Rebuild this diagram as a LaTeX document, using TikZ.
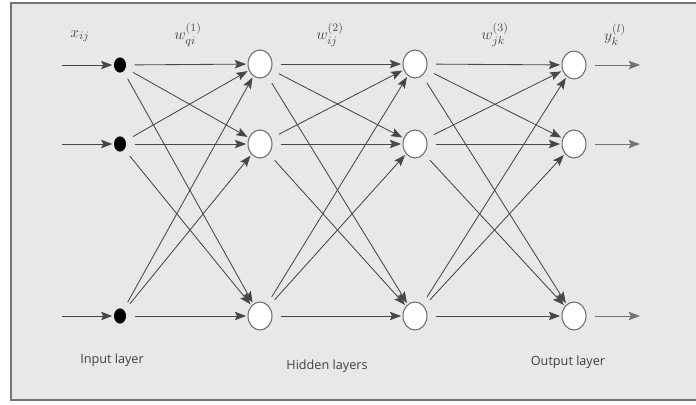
\documentclass[tikz,border=0pt]{standalone}
\usepackage{fontspec}
\setmainfont{Open Sans}
\usetikzlibrary{shapes.geometric}
\usetikzlibrary{arrows.meta}

\tikzset{
  inp/.style={ellipse,fill=black,minimum width=0.3cm,minimum height=0.38cm,inner sep=0pt},
  neuron/.style={ellipse,draw=black!60,fill=white,line width=0.7pt,
                 minimum width=0.6cm,minimum height=0.7cm,inner sep=0pt},
  link/.style={draw=black!72,line width=0.6pt,-{Stealth[length=8pt,width=6pt,inset=1.5pt]},
               shorten <=6pt,shorten >=1pt},
  lbl/.style={font=\fontsize{9}{11}\selectfont,text=black!75},
  mlbl/.style={font=\fontsize{11}{13}\selectfont,text=black!70}
}

\begin{document}
\begin{tikzpicture}[x=0.025cm,y=-0.025cm]
\useasboundingbox (0,0) rectangle (696,405);
% paper and frame
\fill[black!9] (11,3) rectangle (696,400);
\draw[black!55,line width=1.2pt] (696,3) -- (11,3) -- (11,400) -- (696,400);

% layers
\node[inp] (i1) at (120,65) {};
\node[inp] (i2) at (120,144) {};
\node[inp] (i3) at (120,316) {};
\node[neuron] (a1) at (260,64) {};
\node[neuron] (a2) at (260,144) {};
\node[neuron] (a3) at (260,316) {};
\node[neuron] (b1) at (415,64) {};
\node[neuron] (b2) at (415,144) {};
\node[neuron] (b3) at (415,316) {};
\node[neuron] (o1) at (574,65) {};
\node[neuron] (o2) at (574,144) {};
\node[neuron] (o3) at (574,316) {};

% free ends
\coordinate (x1) at (62,65);
\coordinate (x2) at (62,144);
\coordinate (x3) at (62,316);
\coordinate (y1) at (640,65);
\coordinate (y2) at (640,144);
\coordinate (y3) at (640,316);

\foreach \s in {1,2,3}
  \foreach \t in {1,2,3}
  {
    \draw[link] (i\s) -- (a\t);
    \draw[link] (a\s) -- (b\t);
    \draw[link] (b\s) -- (o\t);
  }
\foreach \n in {1,2,3}
  {
    \draw[link,shorten <=0pt] (x\n) -- (i\n);
    \draw[link,draw=black!55,shorten >=0pt] (o\n) -- (y\n);
  }

% labels
\node[mlbl] (xl) at (80,36) {$x_{ij}$};
\node[mlbl] (w1) at (188,35) {$w^{(1)}_{qi}$};
\node[mlbl] (w2) at (330,35) {$w^{(2)}_{ij}$};
\node[mlbl] (w3) at (495,35) {$w^{(3)}_{jk}$};
\node[mlbl] (yl) at (615,35) {$y^{(l)}_{k}$};
\node[lbl] (il) at (112,360) {Input layer};
\node[lbl] (hl) at (327,366) {Hidden layers};
\node[lbl] (ol) at (568,362) {Output layer};
\end{tikzpicture}
\end{document}
